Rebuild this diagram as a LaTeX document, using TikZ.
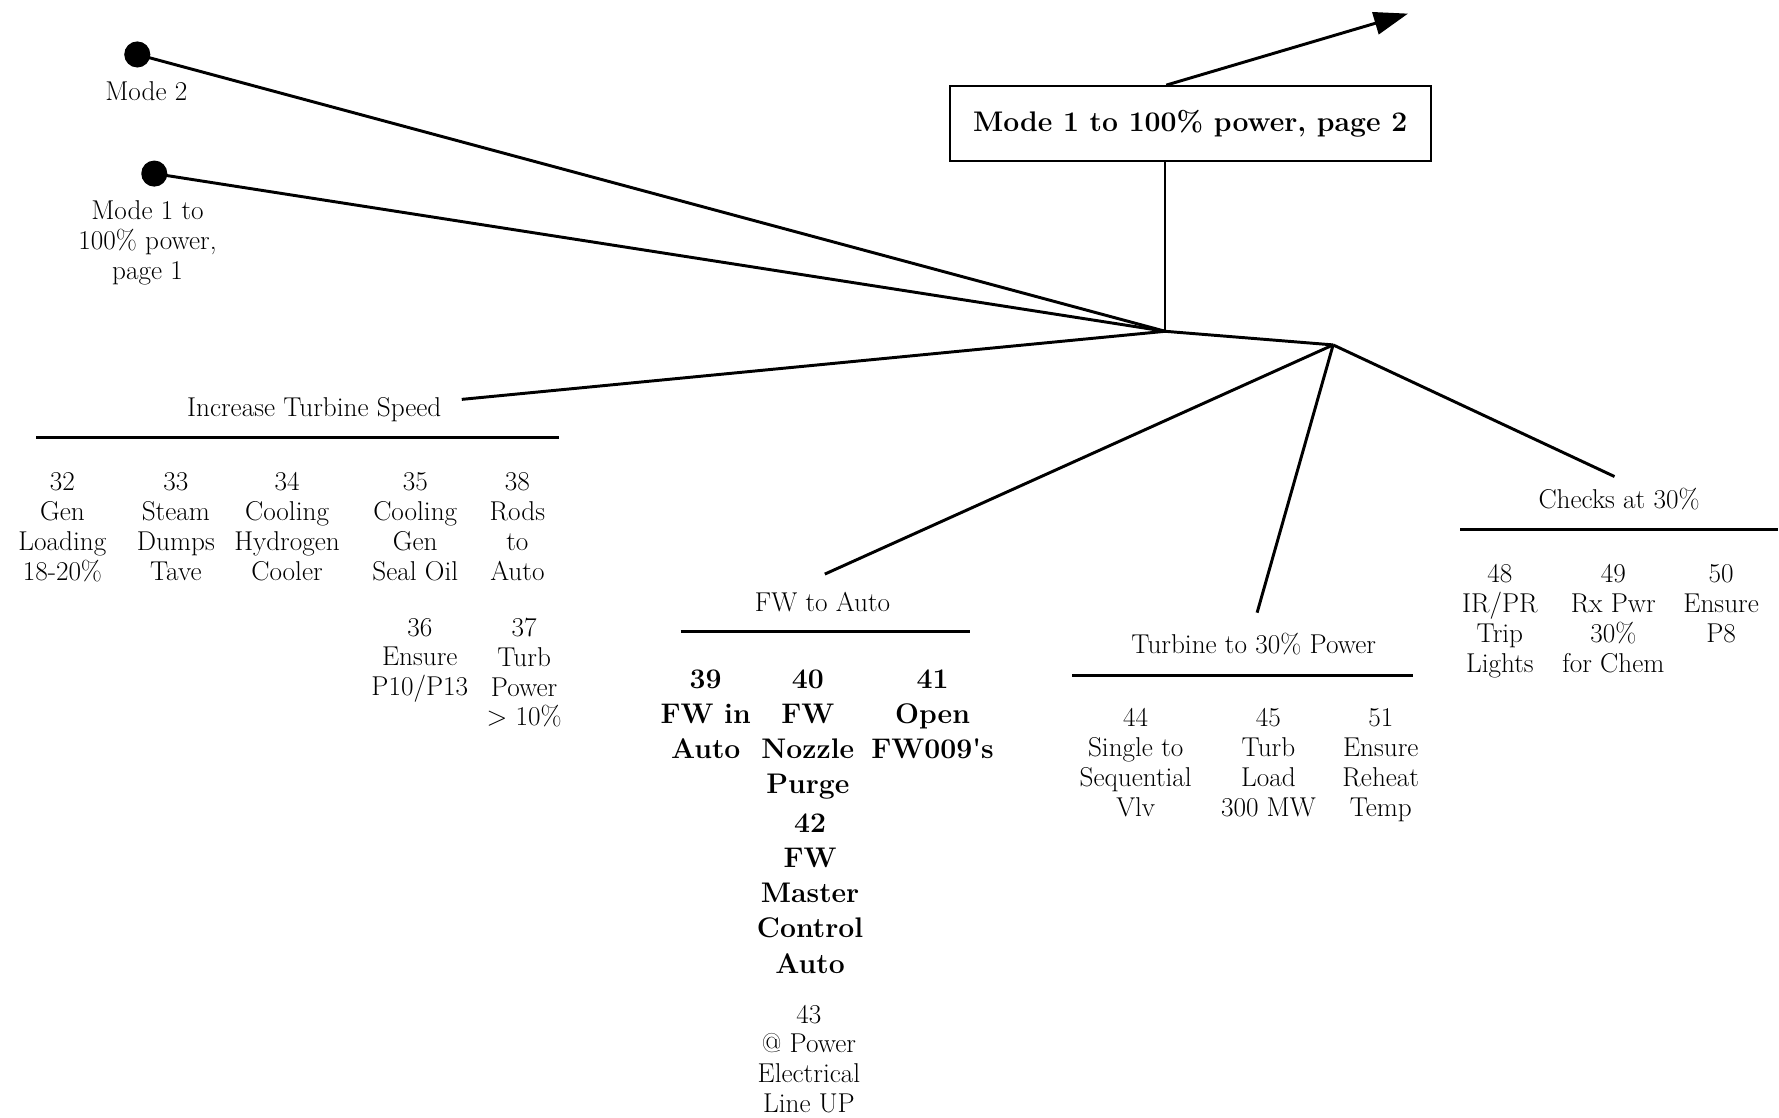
\documentclass[tikz,border=0pt]{standalone}
\usetikzlibrary{arrows.meta}
\begin{document}
\begin{tikzpicture}[x=1pt,y=-1pt,
  reg/.style={align=center,inner sep=0pt,anchor=north,font=\fontsize{24}{26.3}\selectfont},
  bld/.style={align=center,inner sep=0pt,anchor=north,font=\fontsize{25}{31}\selectfont\bfseries},
  head/.style={inner sep=0pt,anchor=base,font=\fontsize{24}{26.3}\selectfont},
  conn/.style={line width=2.6pt},
  uline/.style={line width=2.6pt},
  dot/.style={circle,fill=black,inner sep=0pt,minimum size=23pt}]
\useasboundingbox (0,0) rectangle (1568,985);

% start dots
\node[dot] (m2) at (121,48) {};
\node[head,anchor=center] (m2l) at (129,80) {Mode 2};
\node[dot] (m1) at (136,153) {};
\node[reg] (m1l) at (130,177) {Mode 1 to\\100\% power,\\page 1};

% main box
\node[draw,line width=2pt,minimum width=424pt,minimum height=66pt,inner sep=0pt,
      font=\fontsize{25}{31}\selectfont\bfseries] (box) at (1049,109) {Mode 1 to 100\% power, page 2};
\coordinate (arrs) at (1028,75);
\coordinate (arre) at (1241,12);
\draw[line width=2.6pt,-{Triangle[length=30pt,width=20pt]}] (arrs) -- (arre);

% junctions
\coordinate (j1) at (1027,292);
\coordinate (j2) at (1175,304);
\coordinate (boxb) at (1027,142);
\draw[line width=1.8pt] (boxb) -- (j1);
\draw[conn] (m2.center) -- (j1);
\draw[conn] (m1.center) -- (j1);
\draw[conn] (j1) -- (j2);

% Increase Turbine Speed
\node[head] (its) at (277,367) {Increase Turbine Speed};
\coordinate (itsE) at (407,352);
\draw[conn] (j1) -- (itsE);
\coordinate (itsU1) at (32,386);
\coordinate (itsU2) at (493,386);
\draw[uline] (itsU1) -- (itsU2);
\node[reg] (n32) at (55,416.5) {32\\Gen\\Loading\\18-20\%};
\node[reg] (n33) at (155,416.5) {33\\Steam\\Dumps\\Tave};
\node[reg] (n34) at (253,416.5) {34\\Cooling\\Hydrogen\\Cooler};
\node[reg] (n35) at (366,416.5) {35\\Cooling\\Gen\\Seal Oil};
\node[reg] (n38) at (456,416.5) {38\\Rods\\to\\Auto};
\node[reg] (n36) at (370,544.5) {36\\Ensure\\P10/P13};
\node[reg] (n37) at (462,544.5) {37\\Turb\\Power\\> 10\%};

% FW to Auto
\node[head] (fw) at (725,539) {FW to Auto};
\coordinate (fwT) at (727,506);
\draw[conn] (j2) -- (fwT);
\coordinate (fwU1) at (600,557);
\coordinate (fwU2) at (855,557);
\draw[uline] (fwU1) -- (fwU2);
\node[bld] (n39) at (622,590) {39\\FW in\\Auto};
\node[bld] (n40) at (712,590) {40\\FW\\Nozzle\\Purge};
\node[bld] (n41) at (822,590) {41\\Open\\FW009\textquotesingle s};
\node[bld] (n42) at (714,717) {42\\FW\\Master\\Control\\Auto};
\node[reg] (n43) at (713,885.5) {43\\@ Power\\Electrical\\Line UP};

% Turbine to 30% Power
\node[head] (tp) at (1105,576) {Turbine to 30\% Power};
\coordinate (tpT) at (1108,540);
\draw[conn] (j2) -- (tpT);
\coordinate (tpU1) at (945,595);
\coordinate (tpU2) at (1245,595);
\draw[uline] (tpU1) -- (tpU2);
\node[reg] (n44) at (1001,624.5) {44\\Single to\\Sequential\\Vlv};
\node[reg] (n45) at (1118,624.5) {45\\Turb\\Load\\300 MW};
\node[reg] (n51) at (1217,624.5) {51\\Ensure\\Reheat\\Temp};

% Checks at 30%
\node[head] (ck) at (1427,448) {Checks at 30\%};
\coordinate (ckT) at (1423,420);
\draw[conn] (j2) -- (ckT);
\coordinate (ckU1) at (1287,467);
\coordinate (ckU2) at (1567,467);
\draw[uline] (ckU1) -- (ckU2);
\node[reg] (n48) at (1322,497.5) {48\\IR/PR\\Trip\\Lights};
\node[reg] (n49) at (1422,497.5) {49\\Rx Pwr\\30\%\\for Chem};
\node[reg] (n50) at (1517,497.5) {50\\Ensure\\P8};
\end{tikzpicture}
\end{document}
